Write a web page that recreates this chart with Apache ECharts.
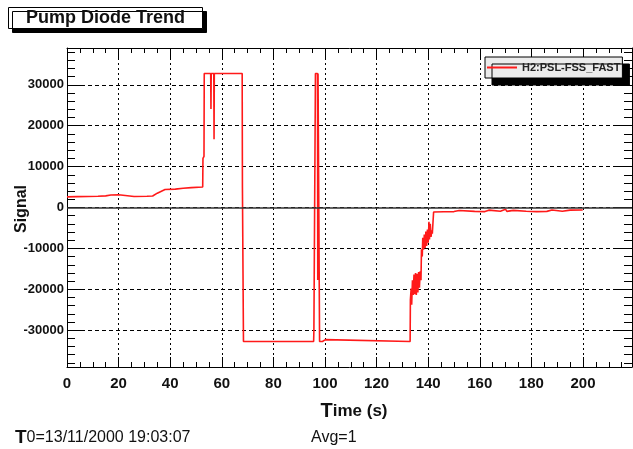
<!DOCTYPE html>
<html>
<head>
<meta charset="utf-8">
<script src="https://cdn.jsdelivr.net/npm/echarts@6/dist/echarts.min.js"></script>
<style>
  html, body { margin: 0; padding: 0; background: #ffffff; }
  #chart { width: 633px; height: 449px; }
</style>
</head>
<body>
<div id="chart"></div>
<script>
// Pump diode signal trace (time in seconds, ADC counts)
const timeSec = [
  0, 4, 8, 12, 15, 17, 20, 20.4, 26, 31, 33.2, 35, 37, 38, 42, 45, 48.2, 52.6,
  52.7, 53.1, 53.2, 55.7, 55.8, 55.9, 56.9, 57.0, 57.1, 67.9, 68.0, 68.3, 68.4,
  95.6, 95.7, 96.2, 96.3, 97.1, 97.2, 97.3, 97.8, 97.9, 99.0, 99.2, 100.2, 100.4,
  133.0, 133.1, 133.4, 133.6, 133.9, 134.2, 134.5, 134.8, 135.1, 135.4, 135.7,
  136.0, 136.3, 136.6, 136.9, 137.2, 137.4, 137.7, 137.9, 138.2, 138.5, 138.8,
  139.1, 139.4, 139.7, 140.0, 140.3, 140.5, 140.8, 141.1, 141.4, 141.6,
  142.1, 146, 150, 152, 152.4, 158, 162, 163.5, 164, 168, 170, 170.5, 173, 173.5,
  178, 182, 186, 188, 188.5, 192, 195, 195.5, 199.9
];
const signal = [
  2600, 2650, 2700, 2750, 2850, 3050, 3100, 2650, 2700, 2750, 2800, 3500, 4100, 4400, 4500, 4700, 4850, 5000,
  12000, 12500, 32767, 32767, 24100, 32767, 32767, 16700, 32767, 32767, 4900, 4900, -32768,
  -32768, -30000, -30000, 32767, 32767, -17700, 32767, 32767, -32768, -32768, -32300, -32300, -32768,
  -32768, -22600, -19800, -23800, -17800, -21400, -16400, -21200, -16000, -21400, -16200,
  -20800, -15800, -19600, -15600, -17800, -10200, -12000, -7400, -10300, -6600, -9900,
  -5900, -9400, -5400, -8600, -3500, -7800, -4000, -7200, -5600, -6400,
  -1100, -1050, -1000, -750, -1000, -950, -1000, -650, -1000, -900, -450, -950, -700, -950,
  -900, -1000, -950, -600, -950, -900, -650, -900, -600
];

// Axis ticks
const xMajorTicks = [0, 20, 40, 60, 80, 100, 120, 140, 160, 180, 200];
const yMajorTicks = [-30000, -20000, -10000, 0, 10000, 20000, 30000];
const X_MIN = 0, X_MAX = 219;
const Y_MIN = -39000, Y_MAX = 39000;

const xMinorTicks = [];
for (let v = 5; v < X_MAX; v += 5) if (v % 20 !== 0) xMinorTicks.push(v);
const yMinorTicks = [];
for (let v = -38000; v <= 38000; v += 2000) if (v % 10000 !== 0) yMinorTicks.push(v);

const FONT = '"Liberation Sans", Arial, Helvetica, sans-serif';
const INK = '#111111';

function xAxisDef(position, ticks, tickLen, withLine, withLabels, withGrid) {
  return {
    type: 'value', position, min: X_MIN, max: X_MAX,
    axisLine: { show: withLine, onZero: false, lineStyle: { color: '#000', width: 1 } },
    axisTick: { show: true, inside: true, length: tickLen, customValues: ticks,
                lineStyle: { color: '#000', width: 1 } },
    axisLabel: withLabels ? {
      show: true, customValues: ticks, margin: 9,
      fontFamily: FONT, fontWeight: 'bold', fontSize: 15, color: INK,
      formatter: v => String(v)
    } : { show: false },
    splitLine: withGrid ? { show: true, lineStyle: { color: '#000', width: 1, type: [2, 3] } } : { show: false },
    minorTick: { show: false }
  };
}

function yAxisDef(position, ticks, tickLen, withLine, withLabels, withGrid) {
  return {
    type: 'value', position, min: Y_MIN, max: Y_MAX,
    axisLine: { show: withLine, onZero: false, lineStyle: { color: '#000', width: 1 } },
    axisTick: { show: true, inside: true, length: tickLen, customValues: ticks,
                lineStyle: { color: '#000', width: 1 } },
    axisLabel: withLabels ? {
      show: true, customValues: ticks, margin: 3,
      fontFamily: FONT, fontWeight: 'bold', fontSize: 13, color: INK,
      formatter: v => String(v)
    } : { show: false },
    splitLine: withGrid ? { show: true, lineStyle: { color: '#000', width: 1, type: [4, 3] } } : { show: false },
    minorTick: { show: false }
  };
}

const chart = echarts.init(document.getElementById('chart'), null, { renderer: 'canvas' });

chart.setOption({
  animation: false,
  backgroundColor: '#ffffff',
  title: {
    text: 'Pump Diode Trend',
    left: 8, top: 7,
    padding: [1, 18, 1, 18],
    backgroundColor: '#ffffff',
    borderColor: '#000', borderWidth: 1,
    shadowColor: '#000', shadowBlur: 0, shadowOffsetX: 4, shadowOffsetY: 4,
    textStyle: { fontFamily: FONT, fontWeight: 'bold', fontSize: 18, lineHeight: 20, color: INK }
  },
  legend: {
    data: [{ name: 'H2:PSL-FSS_FAST', icon: 'rect' }],
    left: 485, top: 57,
    padding: [5, 2, 5, 2],
    itemWidth: 30, itemHeight: 2,
    selectedMode: false,
    backgroundColor: '#ebebeb',
    borderColor: '#000', borderWidth: 1,
    shadowColor: '#000', shadowBlur: 0, shadowOffsetX: 7, shadowOffsetY: 7,
    itemStyle: { color: '#ff1a1a', borderWidth: 0 },
    lineStyle: { width: 0 },
    textStyle: { fontFamily: FONT, fontWeight: 'bold', fontSize: 11, color: '#222' }
  },
  grid: { left: 67, right: 1, top: 48, bottom: 82, containLabel: false },
  xAxis: [
    xAxisDef('bottom', xMajorTicks, 10, true, true, true),
    xAxisDef('bottom', xMinorTicks, 5, false, false, false),
    xAxisDef('top', xMajorTicks, 10, true, false, false),
    xAxisDef('top', xMinorTicks, 5, false, false, false)
  ],
  yAxis: [
    yAxisDef('left', yMajorTicks, 15, true, true, true),
    yAxisDef('left', yMinorTicks, 8, false, false, false),
    yAxisDef('right', yMajorTicks, 15, true, false, false),
    yAxisDef('right', yMinorTicks, 8, false, false, false)
  ],
  series: [{
    name: 'H2:PSL-FSS_FAST',
    type: 'line',
    xAxisIndex: 0, yAxisIndex: 0,
    data: timeSec.map((t, i) => [t, signal[i]]),
    showSymbol: false, symbol: 'none',
    lineStyle: { color: '#ff1a1a', width: 1.6 },
    itemStyle: { color: '#ff1a1a' },
    z: 3,
    markLine: {
      silent: true, symbol: 'none', label: { show: false },
      lineStyle: { color: '#333', width: 1.5, type: 'solid' },
      data: [{ yAxis: 0 }]
    }
  }],
  graphic: [
    {
      type: 'text', x: 22, y: 209, rotation: Math.PI / 2,
      style: { text: 'Signal', font: 'bold 16px ' + FONT, fill: INK, align: 'center', verticalAlign: 'middle' }
    },
    {
      type: 'text', x: 354, y: 411,
      style: {
        text: '{big|T}ime (s)', font: 'bold 17px ' + FONT, fill: INK,
        align: 'center', verticalAlign: 'middle',
        rich: { big: { font: 'bold 20px ' + FONT, fill: INK } }
      }
    },
    {
      type: 'text', x: 15, y: 438,
      style: {
        text: '{big|T}0=13/11/2000 19:03:07', font: '16px ' + FONT, fill: INK,
        align: 'left', verticalAlign: 'middle',
        rich: { big: { font: 'bold 19px ' + FONT, fill: INK } }
      }
    },
    {
      type: 'text', x: 311, y: 438,
      style: { text: 'Avg=1', font: '16px ' + FONT, fill: INK, align: 'left', verticalAlign: 'middle' }
    }
  ]
});
</script>
</body>
</html>
